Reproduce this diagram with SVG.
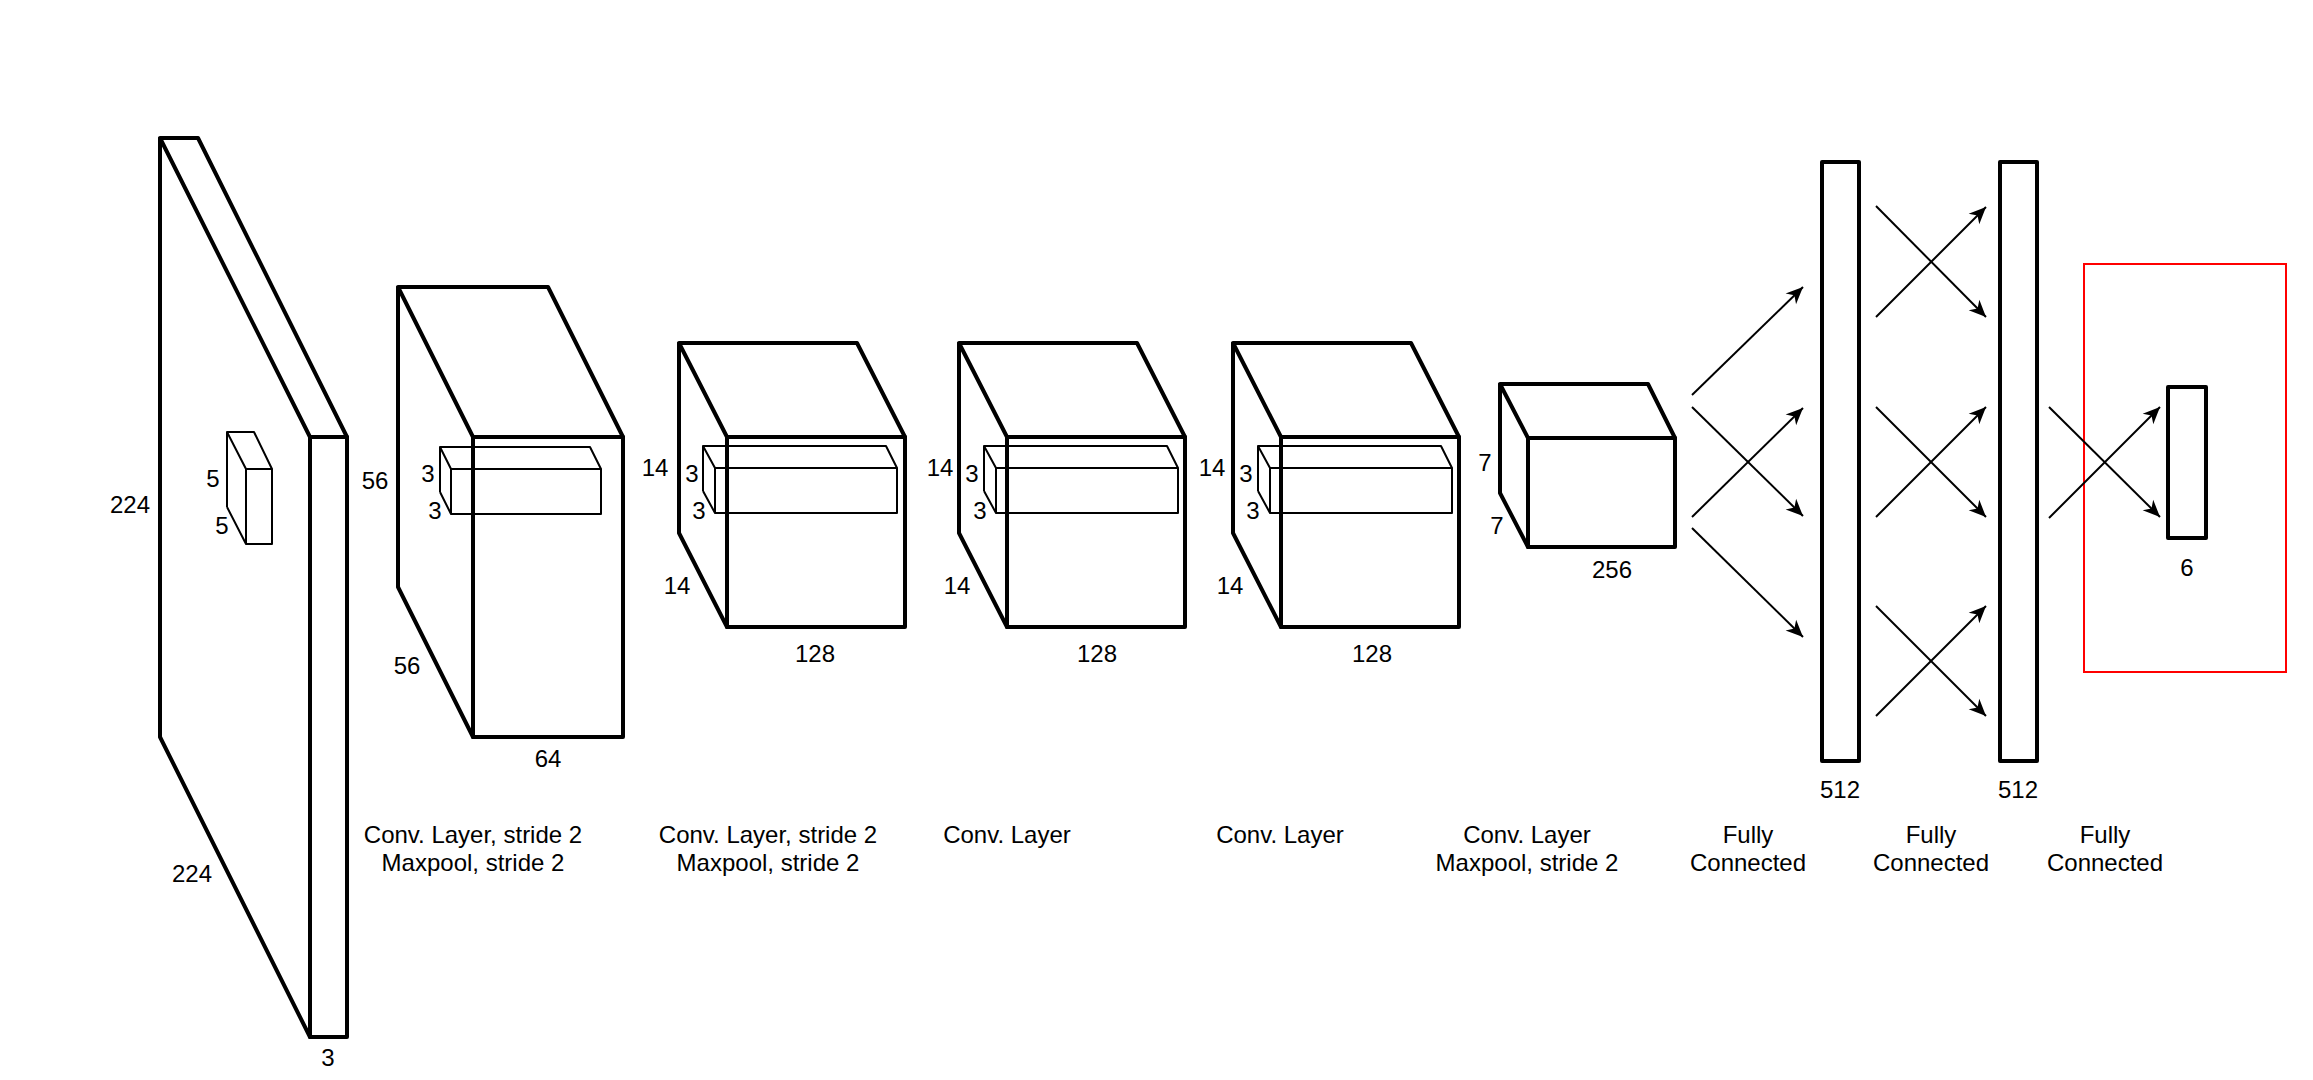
<svg xmlns="http://www.w3.org/2000/svg" width="2313" height="1080" viewBox="0 0 2313 1080">
<style>
.b{fill:none;stroke:#000;stroke-width:4;stroke-linejoin:round;stroke-linecap:round}
.k{fill:none;stroke:#000;stroke-width:2;stroke-linejoin:round}
.a{fill:none;stroke:#000;stroke-width:2;marker-end:url(#ah)}
.t{font-family:"Liberation Sans",Arial,sans-serif;font-size:24px;fill:#000;text-anchor:middle}
.l{font-family:"Liberation Sans",Arial,sans-serif;font-size:24px;fill:#000;text-anchor:middle}
</style>
<defs>
<marker id="ah" markerUnits="userSpaceOnUse" viewBox="-18 -9 19 18" markerWidth="19" markerHeight="18" refX="0" refY="0" orient="auto">
<path d="M0,0 L-17,-7.5 L-12,0 L-17,7.5 Z" fill="#000"/>
</marker>
</defs>
<rect width="2313" height="1080" fill="#fff"/>

<g id="input">
<path class="b" d="M160,737 L160,138 L198,138 L347,437 M160,138 L310,437 M160,737 L310,1037"/>
<rect class="b" x="310" y="437" width="37" height="600"/>
<path class="k" d="M227,507 L227,432 L254,432 L272,469 M227,432 L246,469 M227,507 L246,544"/>
<rect class="k" x="246" y="469" width="26" height="75"/>
<text class="t" x="130" y="513">224</text>
<text class="t" x="213" y="487">5</text>
<text class="t" x="222" y="534">5</text>
<text class="t" x="192" y="882">224</text>
<text class="t" x="328" y="1066">3</text>
</g>

<g id="conv1">
<path class="b" d="M398,587 L398,287 L548,287 L623,437 M398,287 L473,437 M398,587 L473,737"/>
<rect class="b" x="473" y="437" width="150" height="300"/>
<path class="k" d="M440,492 L440,447 L590,447 L601,469 M440,447 L451,469 M440,492 L451,514"/>
<rect class="k" x="451" y="469" width="150" height="45"/>
<text class="t" x="375" y="489">56</text>
<text class="t" x="428" y="482">3</text>
<text class="t" x="435" y="519">3</text>
<text class="t" x="407" y="674">56</text>
<text class="t" x="548" y="767">64</text>
<text class="l" x="473" y="843">Conv. Layer, stride 2</text>
<text class="l" x="473" y="871">Maxpool, stride 2</text>
</g>

<g id="conv2">
<path class="b" d="M679,533 L679,343 L857,343 L905,437 M679,343 L727,437 M679,533 L727,627"/>
<rect class="b" x="727" y="437" width="178" height="190"/>
<path class="k" d="M703,491 L703,446 L886,446 L897,468 M703,446 L715,468 M703,491 L715,513"/>
<rect class="k" x="715" y="468" width="182" height="45"/>
<text class="t" x="655" y="476">14</text>
<text class="t" x="692" y="482">3</text>
<text class="t" x="699" y="519">3</text>
<text class="t" x="677" y="594">14</text>
<text class="t" x="815" y="662">128</text>
<text class="l" x="768" y="843">Conv. Layer, stride 2</text>
<text class="l" x="768" y="871">Maxpool, stride 2</text>
</g>

<g id="conv3">
<path class="b" d="M959,533 L959,343 L1137,343 L1185,437 M959,343 L1007,437 M959,533 L1007,627"/>
<rect class="b" x="1007" y="437" width="178" height="190"/>
<path class="k" d="M984,491 L984,446 L1167,446 L1178,468 M984,446 L996,468 M984,491 L996,513"/>
<rect class="k" x="996" y="468" width="182" height="45"/>
<text class="t" x="940" y="476">14</text>
<text class="t" x="972" y="482">3</text>
<text class="t" x="980" y="519">3</text>
<text class="t" x="957" y="594">14</text>
<text class="t" x="1097" y="662">128</text>
<text class="l" x="1007" y="843">Conv. Layer</text>
</g>

<g id="conv4">
<path class="b" d="M1233,533 L1233,343 L1411,343 L1459,437 M1233,343 L1281,437 M1233,533 L1281,627"/>
<rect class="b" x="1281" y="437" width="178" height="190"/>
<path class="k" d="M1258,491 L1258,446 L1441,446 L1452,468 M1258,446 L1270,468 M1258,491 L1270,513"/>
<rect class="k" x="1270" y="468" width="182" height="45"/>
<text class="t" x="1212" y="476">14</text>
<text class="t" x="1246" y="482">3</text>
<text class="t" x="1253" y="519">3</text>
<text class="t" x="1230" y="594">14</text>
<text class="t" x="1372" y="662">128</text>
<text class="l" x="1280" y="843">Conv. Layer</text>
</g>

<g id="conv5">
<path class="b" d="M1500,493 L1500,384 L1648,384 L1675,438 M1500,384 L1528,438 M1500,493 L1528,547"/>
<rect class="b" x="1528" y="438" width="147" height="109"/>
<text class="t" x="1485" y="471">7</text>
<text class="t" x="1497" y="534">7</text>
<text class="t" x="1612" y="578">256</text>
<text class="l" x="1527" y="843">Conv. Layer</text>
<text class="l" x="1527" y="871">Maxpool, stride 2</text>
</g>

<g id="fc1">
<rect class="b" x="1822" y="162" width="37" height="599"/>
<text class="t" x="1840" y="798">512</text>
<text class="l" x="1748" y="843">Fully</text>
<text class="l" x="1748" y="871">Connected</text>
</g>

<g id="fc2">
<rect class="b" x="2000" y="162" width="37" height="599"/>
<text class="t" x="2018" y="798">512</text>
<text class="l" x="1931" y="843">Fully</text>
<text class="l" x="1931" y="871">Connected</text>
</g>

<g id="output">
<rect class="b" x="2168" y="387" width="38" height="151"/>
<text class="t" x="2187" y="576">6</text>
<text class="l" x="2105" y="843">Fully</text>
<text class="l" x="2105" y="871">Connected</text>
</g>

<g id="highlight">
<rect x="2084" y="264" width="202" height="408" fill="none" stroke="#ff0000" stroke-width="2"/>
</g>

<g id="connectors">
<line class="a" x1="1692" y1="395" x2="1803" y2="287"/>
<line class="a" x1="1692" y1="407" x2="1803" y2="516"/>
<line class="a" x1="1692" y1="517" x2="1803" y2="408"/>
<line class="a" x1="1692" y1="528" x2="1803" y2="637"/>
<line class="a" x1="1876" y1="206" x2="1986" y2="317"/>
<line class="a" x1="1876" y1="317" x2="1986" y2="207"/>
<line class="a" x1="1876" y1="407" x2="1986" y2="517"/>
<line class="a" x1="1876" y1="517" x2="1986" y2="407"/>
<line class="a" x1="1876" y1="606" x2="1986" y2="716"/>
<line class="a" x1="1876" y1="716" x2="1986" y2="606"/>
<line class="a" x1="2049" y1="407" x2="2160" y2="517"/>
<line class="a" x1="2049" y1="518" x2="2160" y2="407"/>
</g>
</svg>
